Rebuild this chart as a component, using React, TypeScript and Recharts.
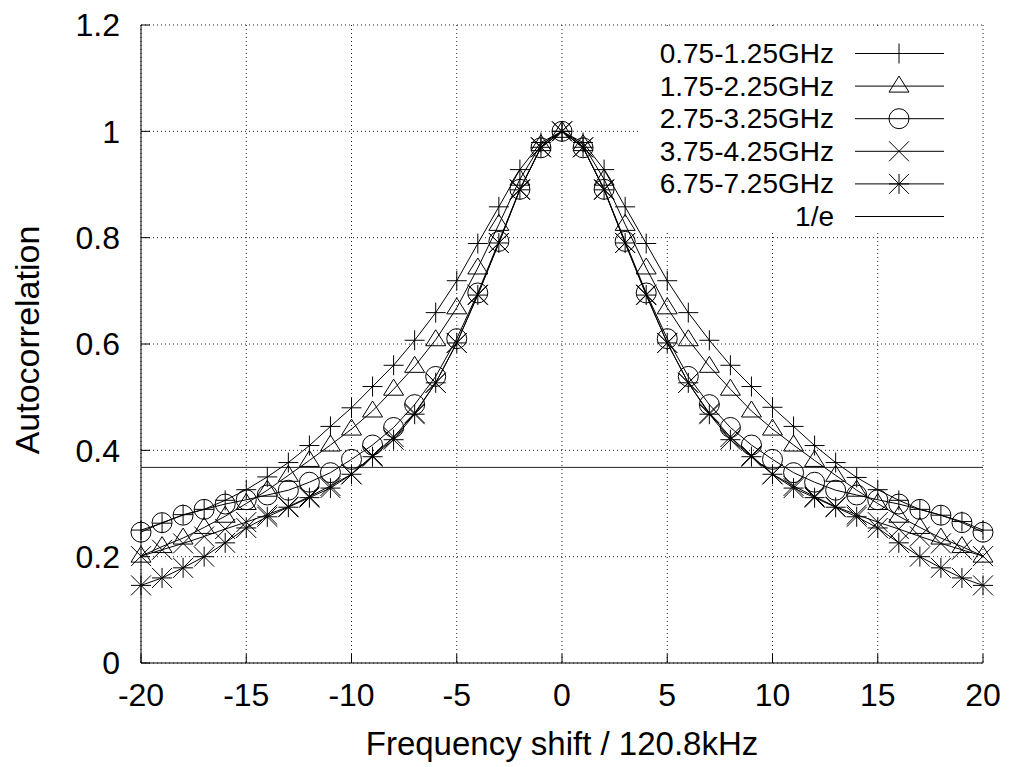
import React from 'react';
import { LineChart, Line, XAxis, YAxis, CartesianGrid, ReferenceLine, Legend } from 'recharts';

const shifts = [-20,-19,-18,-17,-16,-15,-14,-13,-12,-11,-10,-9,-8,-7,-6,-5,-4,-3,-2,-1,0,1,2,3,4,5,6,7,8,9,10,11,12,13,14,15,16,17,18,19,20];

const band1 = [0.250,0.263,0.279,0.289,0.306,0.326,0.350,0.377,0.409,0.445,0.480,0.520,0.560,0.607,0.659,0.719,0.789,0.858,0.928,0.979,1.000,0.979,0.928,0.858,0.789,0.719,0.659,0.607,0.560,0.520,0.481,0.445,0.409,0.377,0.349,0.326,0.306,0.289,0.278,0.266,0.250];
const band2 = [0.201,0.219,0.235,0.255,0.276,0.300,0.325,0.353,0.381,0.410,0.440,0.474,0.515,0.558,0.608,0.668,0.743,0.825,0.910,0.975,1.000,0.975,0.910,0.825,0.743,0.668,0.608,0.558,0.515,0.474,0.440,0.410,0.381,0.353,0.325,0.300,0.276,0.255,0.235,0.219,0.201];
const band3 = [0.246,0.264,0.278,0.289,0.299,0.307,0.316,0.325,0.340,0.358,0.383,0.410,0.443,0.486,0.539,0.610,0.696,0.793,0.891,0.969,1.000,0.969,0.891,0.793,0.696,0.610,0.539,0.486,0.443,0.410,0.383,0.358,0.340,0.325,0.316,0.307,0.299,0.289,0.278,0.264,0.246];
const band4 = [0.201,0.213,0.225,0.238,0.252,0.265,0.279,0.294,0.313,0.333,0.355,0.390,0.425,0.470,0.527,0.602,0.693,0.790,0.891,0.970,1.000,0.970,0.891,0.790,0.693,0.602,0.527,0.470,0.425,0.390,0.355,0.333,0.313,0.294,0.279,0.265,0.252,0.238,0.225,0.213,0.201];
const band5 = [0.146,0.160,0.179,0.200,0.226,0.254,0.275,0.293,0.311,0.329,0.355,0.388,0.420,0.468,0.527,0.602,0.692,0.790,0.890,0.970,1.000,0.970,0.890,0.790,0.692,0.602,0.527,0.468,0.420,0.388,0.355,0.329,0.311,0.293,0.275,0.254,0.226,0.200,0.179,0.160,0.146];

const INV_E = 0.3679;

const seriesNames = ['0.75-1.25GHz','1.75-2.25GHz','2.75-3.25GHz','3.75-4.25GHz','6.75-7.25GHz'];
const seriesKeys = ['b1','b2','b3','b4','b5'];
const seriesMarkers = ['plus','triangle','circle','cross','star'];
const refName = '1/e';

const xTicks = [-20,-15,-10,-5,0,5,10,15,20];
const yTicks = [0,0.2,0.4,0.6,0.8,1,1.2];

const data = shifts.map((x, i) => ({
  x,
  b1: band1[i],
  b2: band2[i],
  b3: band3[i],
  b4: band4[i],
  b5: band5[i],
}));

const FONT = '"Liberation Sans", Arial, Helvetica, sans-serif';
const R = 10;

function Marker({ kind, cx, cy }: { kind: string; cx: number; cy: number }) {
  const common = { stroke: '#000', strokeWidth: 1, fill: 'none' };
  if (cx == null || cy == null) return null;
  switch (kind) {
    case 'plus':
      return <path d={`M${cx - R},${cy}H${cx + R}M${cx},${cy - R}V${cy + R}`} {...common} />;
    case 'triangle':
      return <path d={`M${cx},${cy - 10}L${cx + 10},${cy + 6}L${cx - 10},${cy + 6}Z`} {...common} />;
    case 'circle':
      return <circle cx={cx} cy={cy} r={R} {...common} />;
    case 'cross':
      return <path d={`M${cx - R},${cy - R}L${cx + R},${cy + R}M${cx - R},${cy + R}L${cx + R},${cy - R}`} {...common} />;
    case 'star':
      return (
        <path
          d={`M${cx - R},${cy}H${cx + R}M${cx},${cy - R}V${cy + R}M${cx - R},${cy - R}L${cx + R},${cy + R}M${cx - R},${cy + R}L${cx + R},${cy - R}`}
          {...common}
        />
      );
    default:
      return null;
  }
}

function LegendBox() {
  const rows = [...seriesNames.map((n, i) => ({ name: n, marker: seriesMarkers[i] })), { name: refName, marker: '' }];
  return (
    <svg width={343} height={207} style={{ display: 'block' }}>
      {rows.map((r, i) => {
        const y = 27.5 + i * 32.6;
        return (
          <g key={r.name}>
            <text x={194} y={y} textAnchor="end" dominantBaseline="central" fontFamily={FONT} fontSize={28} fill="#000">
              {r.name}
            </text>
            <line x1={215} x2={304} y1={y} y2={y} stroke="#000" strokeWidth={1} />
            {r.marker ? <Marker kind={r.marker} cx={259} cy={y} /> : null}
          </g>
        );
      })}
    </svg>
  );
}

function YLabel(props: any) {
  const vb = props.viewBox || {};
  const cx = vb.x + 27;
  const cy = vb.y + vb.height / 2 - 4;
  return (
    <text x={cx} y={cy} transform={`rotate(-90, ${cx}, ${cy})`} textAnchor="middle" dominantBaseline="central" fontFamily={FONT} fontSize={34} fill="#000">
      Autocorrelation
    </text>
  );
}

function XLabel(props: any) {
  const vb = props.viewBox || {};
  const cx = vb.x + vb.width / 2;
  const cy = vb.y + 92;
  return (
    <text x={cx} y={cy} textAnchor="middle" fontFamily={FONT} fontSize={33} fill="#000">
      Frequency shift / 120.8kHz
    </text>
  );
}

export default function App() {
  const tickStyle = { fontFamily: FONT, fontSize: 32, fill: '#000' };
  return (
    <div style={{ position: 'absolute', left: 0, top: 0, width: 1011, height: 767, background: '#fff' }}>
      <LineChart width={1011} height={767} data={data} margin={{ top: 25, right: 28, bottom: 0, left: 0 }}>
        <CartesianGrid stroke="#222" strokeDasharray="1 3" strokeWidth={1} />
        <XAxis
          dataKey="x"
          type="number"
          domain={[-20, 20]}
          ticks={xTicks}
          interval={0}
          height={104}
          tickSize={-9}
          tickMargin={29}
          stroke="#000"
          tick={tickStyle}
          label={<XLabel />}
        />
        <XAxis
          xAxisId="top"
          orientation="top"
          type="number"
          domain={[-20, 20]}
          ticks={xTicks}
          interval={0}
          height={0}
          tickSize={-9}
          tick={false}
          stroke="#000"
        />
        <YAxis
          type="number"
          domain={[0, 1.2]}
          ticks={yTicks}
          interval={0}
          width={141}
          tickSize={-9}
          tickMargin={30}
          stroke="#000"
          tick={tickStyle}
          label={<YLabel />}
        />
        <YAxis
          yAxisId="right"
          orientation="right"
          type="number"
          domain={[0, 1.2]}
          ticks={yTicks}
          interval={0}
          width={0}
          tickSize={-9}
          tick={false}
          stroke="#000"
        />
        <ReferenceLine y={INV_E} stroke="#222" strokeWidth={1} ifOverflow="visible" />
        {seriesKeys.map((k, i) => (
          <Line
            key={k}
            dataKey={k}
            name={seriesNames[i]}
            type="linear"
            stroke="#000"
            strokeWidth={1}
            isAnimationActive={false}
            activeDot={false}
            dot={(p: any) => <Marker key={`${k}-${p.index}`} kind={seriesMarkers[i]} cx={p.cx} cy={p.cy} />}
          />
        ))}
        <Legend
          layout="vertical"
          align="center"
          verticalAlign="middle"
          wrapperStyle={{ left: 640, top: 26, width: 342, height: 206, background: '#fff' }}
          content={() => <LegendBox />}
        />
      </LineChart>
    </div>
  );
}
